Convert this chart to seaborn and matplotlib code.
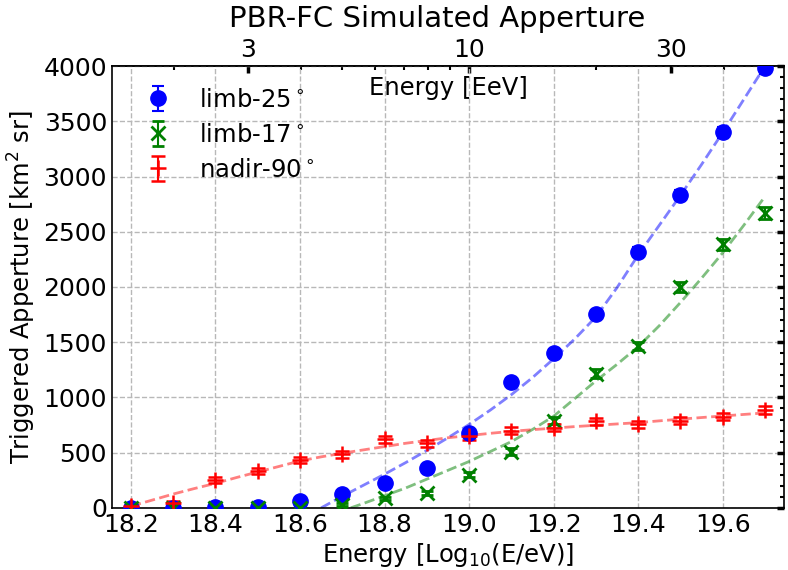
import numpy as np
import matplotlib
matplotlib.use("Agg")
import matplotlib.pyplot as plt
import seaborn as sns
from matplotlib.ticker import MultipleLocator, FixedLocator, FormatStrFormatter

# ---- data ----
energy = [18.2, 18.3, 18.4, 18.5, 18.6, 18.7, 18.8, 18.9, 19.0, 19.1, 19.2, 19.3, 19.4, 19.5, 19.6, 19.7]
limb25 = [0, 0, 5, 5, 60, 125, 225, 360, 675, 1140, 1400, 1755, 2315, 2830, 3400, 3980]
limb25_err = [3, 3, 5, 5, 10, 15, 20, 25, 30, 35, 40, 40, 45, 45, 50, 50]
limb17 = [0, 0, 0, 0, 0, 30, 85, 135, 300, 510, 790, 1215, 1465, 2000, 2385, 2670]
limb17_err = [1, 1, 1, 1, 2, 10, 15, 18, 25, 30, 35, 40, 40, 45, 48, 50]
nadir90 = [15, 45, 250, 335, 435, 485, 620, 585, 650, 700, 725, 785, 755, 790, 825, 885]
nadir90_err = [12, 15, 25, 28, 30, 30, 32, 32, 33, 33, 33, 33, 33, 33, 33, 33]

# fitted curves
fit25_x = [18.65, 18.70, 18.75, 18.80, 18.85, 18.90, 18.95, 19.00, 19.05, 19.10, 19.15,
           19.20, 19.25, 19.30, 19.35, 19.40, 19.45, 19.50, 19.55, 19.60, 19.65, 19.70]
fit25_y = [0, 105, 205, 305, 410, 520, 635, 755, 885, 1025, 1180,
           1350, 1530, 1730, 1995, 2290, 2560, 2830, 3110, 3400, 3700, 4000]
fit17_x = [18.72, 18.75, 18.80, 18.85, 18.90, 18.95, 19.00, 19.05, 19.10, 19.15, 19.20,
           19.25, 19.30, 19.35, 19.40, 19.45, 19.50, 19.55, 19.60, 19.65, 19.70]
fit17_y = [0, 40, 110, 180, 260, 340, 420, 510, 600, 710, 830,
           990, 1150, 1300, 1460, 1650, 1860, 2080, 2310, 2560, 2820]
fit90_x = [18.20, 18.25, 18.30, 18.35, 18.40, 18.45, 18.50, 18.55, 18.60, 18.65, 18.70,
           18.75, 18.80, 18.85, 18.90, 18.95, 19.00, 19.05, 19.10, 19.15, 19.20, 19.25,
           19.30, 19.35, 19.40, 19.45, 19.50, 19.55, 19.60, 19.65, 19.70]
fit90_y = [15, 70, 125, 175, 222, 275, 325, 375, 425, 462, 495,
           525, 555, 585, 610, 635, 655, 675, 693, 708, 722, 736,
           748, 760, 772, 788, 803, 818, 832, 846, 860]

top_major = [3, 10, 30]
top_minor = [2, 4, 5, 6, 7, 8, 9, 20, 40, 50]

sns.set_style("white")
plt.rcParams['font.family'] = ['DejaVu Sans']
plt.rcParams['mathtext.fontset'] = 'dejavusans'
for k in ['text.color', 'axes.labelcolor', 'xtick.color', 'ytick.color', 'axes.edgecolor']:
    plt.rcParams[k] = 'black'

fig = plt.figure(figsize=(7.88, 5.70), dpi=100)
ax = fig.add_axes([0.142, 0.109, 0.853, 0.775])

# fit curves
sns.lineplot(x=fit25_x, y=fit25_y, ax=ax, color='blue', alpha=0.5, lw=2, ls='--', legend=False)
sns.lineplot(x=fit17_x, y=fit17_y, ax=ax, color='green', alpha=0.5, lw=2, ls='--', legend=False)
sns.lineplot(x=fit90_x, y=fit90_y, ax=ax, color='red', alpha=0.5, lw=2, ls='--', legend=False)

# data points
ax.errorbar(energy, limb25, yerr=limb25_err, fmt='o', color='blue', ms=11,
            capsize=4, elinewidth=1.5, capthick=1.5, label=r'limb-25$^\circ$', zorder=5)
ax.errorbar(energy, limb17, yerr=limb17_err, fmt='x', color='green', ms=10, mew=2,
            capsize=4, elinewidth=1.5, capthick=1.5, label=r'limb-17$^\circ$', zorder=5)
ax.errorbar(energy, nadir90, yerr=nadir90_err, fmt='+', color='red', ms=11, mew=1.8,
            capsize=5, elinewidth=1.5, capthick=1.5, label=r'nadir-90$^\circ$', zorder=5)

ax.xaxis.set_major_locator(MultipleLocator(0.2))
ax.xaxis.set_minor_locator(MultipleLocator(0.05))
ax.yaxis.set_major_locator(MultipleLocator(500))
ax.yaxis.set_minor_locator(MultipleLocator(100))
ax.xaxis.set_major_formatter(FormatStrFormatter('%.1f'))
ax.set_xlim(18.155, 19.745)
ax.set_ylim(0, 4000)

ax.tick_params(which='both', direction='in', top=False, right=True, labelsize=18)
ax.tick_params(which='major', length=5, width=2.5)
ax.tick_params(which='minor', length=3, width=1.5)
ax.grid(True, which='major', ls='--', color='#b8b8b8', lw=1)
for s in ax.spines.values():
    s.set_linewidth(1.2)
    s.set_color('black')

ax.set_xlabel(r'Energy [Log$_{10}$(E/eV)]', fontsize=17.5, labelpad=3)
ax.set_ylabel(r'Triggered Apperture [km$^2$ sr]', fontsize=17.5, labelpad=4)

sec = ax.secondary_xaxis('top', functions=(lambda x: 10 ** (x - 18.0),
                                           lambda e: np.log10(np.clip(e, 1e-9, None)) + 18.0))
sec.set_xticks(top_major, labels=[str(v) for v in top_major])
sec.xaxis.set_minor_locator(FixedLocator(top_minor))
sec.tick_params(which='both', direction='in', labelsize=18, pad=3)
sec.tick_params(which='major', length=5, width=2.5)
sec.tick_params(which='minor', length=3, width=1.5)
sec.spines['top'].set_linewidth(1.2)

ax.text(0.5, 0.95, 'Energy [EeV]', transform=ax.transAxes, ha='center', va='center', fontsize=17.5)
fig.text(0.555, 0.966, 'PBR-FC Simulated Apperture', ha='center', va='center', fontsize=21)

ax.legend(loc='upper left', frameon=False, fontsize=17.5, bbox_to_anchor=(0.0, 1.0),
          handletextpad=0.7, labelspacing=0.45)

fig.savefig('out.png', dpi=100)
